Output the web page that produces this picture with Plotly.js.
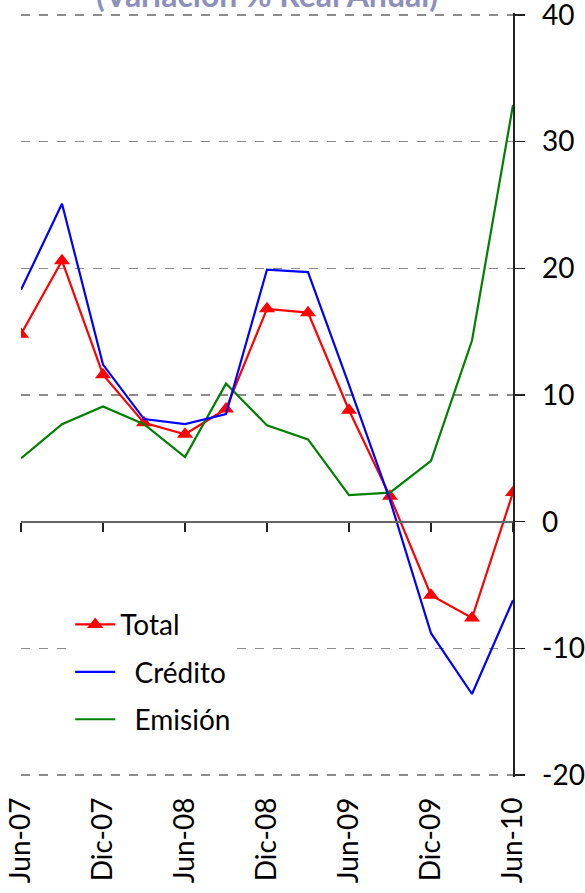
<!DOCTYPE html>
<html><head><meta charset="utf-8">
<script src="https://cdn.plot.ly/plotly-3.0.1.min.js"></script>
<style>html,body{margin:0;padding:0;background:#fff}</style>
</head><body>
<div id="chart" style="width:585px;height:893px"></div>
<script>
const categories = ["Jun-07","Sep-07","Dic-07","Mar-08","Jun-08","Sep-08","Dic-08","Mar-09","Jun-09","Sep-09","Dic-09","Mar-10","Jun-10"];
const totalValues   = [14.8, 20.6, 11.6, 7.8, 6.9, 8.9, 16.8, 16.5, 8.8, 2.0, -5.8, -7.6, 2.3];
const creditoValues = [18.3, 25.1, 12.4, 8.1, 7.7, 8.5, 19.9, 19.7, 10.8, 1.7, -8.8, -13.6, -6.2];
const emisionValues = [5.0, 7.7, 9.1, 7.7, 5.1, 10.9, 7.6, 6.5, 2.1, 2.3, 4.8, 14.3, 32.9];
const tickLabels = ["Jun-07","Dic-07","Jun-08","Dic-08","Jun-09","Dic-09","Jun-10"];
const yTicks = [-20, -10, 0, 10, 20, 30, 40];
const yTickText = ["-20", "-10", "0", "10", "20", "30", "40"];
const titleText = "(Variación % Real Anual)";

const font = "Lato, 'Noto Sans', sans-serif";
const yRange = [-20.15, 40.15];
const zeroPos = (0 - yRange[0]) / (yRange[1] - yRange[0]);

const traces = [
  {x: categories, y: totalValues, name: "Total", type: "scatter", mode: "lines+markers",
   line: {color: "#ff0000", width: 2.2}, marker: {symbol: "triangle-up", size: 14, color: "#ff0000"},
   legendgroup: "a"},
  {x: categories, y: creditoValues, name: "\u00a0\u00a0Crédito", type: "scatter", mode: "lines",
   line: {color: "#0000ff", width: 2.2}, xaxis: "x2", legendgroup: "b"},
  {x: categories, y: emisionValues, name: "\u00a0\u00a0Emisión", type: "scatter", mode: "lines",
   line: {color: "#008000", width: 2.2}, legendgroup: "c"}
];

const layout = {
  width: 585, height: 893,
  margin: {l: 21, r: 72, t: 13, b: 116},
  paper_bgcolor: "#fff", plot_bgcolor: "#fff",
  showlegend: true,
  font: {family: font, size: 28, color: "#000"},
  xaxis: {
    type: "category", categoryarray: categories, range: [0, categories.length - 1],
    tickmode: "array", tickvals: tickLabels, ticktext: tickLabels,
    tickangle: -90, showgrid: false, showline: false, ticks: "",
    tickfont: {size: 28, family: font}, ticklabelstandoff: 14, zeroline: false,
    ticklabeloverflow: "allow"
  },
  xaxis2: {
    type: "category", categoryarray: categories, range: [0, categories.length - 1],
    overlaying: "x", anchor: "free", position: zeroPos, side: "bottom",
    tickmode: "array", tickvals: tickLabels, showticklabels: false,
    ticks: "outside", ticklen: 9, tickwidth: 2, tickcolor: "#222",
    showline: true, linecolor: "#666", linewidth: 2, showgrid: false, zeroline: false
  },
  yaxis: {
    side: "right", range: yRange, tickmode: "array", tickvals: yTicks, ticktext: yTickText,
    showline: true, linecolor: "#222", linewidth: 1.5,
    ticks: "outside", ticklen: 10, tickwidth: 1.5, tickcolor: "#222",
    showgrid: true, gridcolor: "#8c8c8c", griddash: "dash", gridwidth: 1.5,
    zeroline: false, tickfont: {size: 28, family: font}, ticklabelstandoff: 12,
    ticklabeloverflow: "allow"
  },
  legend: {
    x: 0.1, y: 0.232, xanchor: "left", yanchor: "top",
    bgcolor: "#ffffff", borderwidth: 0, tracegroupgap: 8,
    font: {size: 28, family: font}, itemwidth: 40
  },
  annotations: [{
    text: "<b>" + titleText + "</b>", xref: "paper", yref: "paper", x: 0.5, y: 1,
    xanchor: "center", yanchor: "bottom", yshift: -3, showarrow: false,
    font: {size: 32, color: "#8d91ba", family: font}
  }]
};

Plotly.newPlot("chart", traces, layout, {displayModeBar: false, staticPlot: true});
</script>
</body></html>
